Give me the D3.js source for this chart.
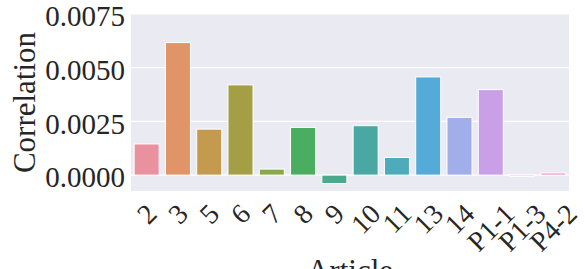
<!DOCTYPE html>
<html>
<head>
<meta charset="utf-8">
<script src="https://cdn.jsdelivr.net/npm/d3@7"></script>
<style>
  body { margin: 0; background: #fff; }
  text { font-family: "Liberation Serif", "Times New Roman", serif; fill: #262626; }
</style>
</head>
<body>
<script>
// Data
var articles = ["2", "3", "5", "6", "7", "8", "9", "10", "11", "13", "14", "P1-1", "P1-3", "P4-2"];
var correlation = [0.00145, 0.00617, 0.00214, 0.0042, 0.00028, 0.00222, -0.00039, 0.0023, 0.00082, 0.00457, 0.00269, 0.00398, -0.00006, 0.0001];
var barColors = ["#e9919f", "#e29469", "#c39a4e", "#a49f44", "#8aa84a", "#4aae60", "#4aaa8c", "#4aa8a3", "#4eabbb", "#54abd7", "#a2aeea", "#c9a0e8", "#e68fe3", "#ef8fc6"];
var yTicks = [0, 0.0025, 0.005, 0.0075];

var W = 585, H = 269;
var margin = { top: 14, right: 16, bottom: 78, left: 131 };
var width = W - margin.left - margin.right;
var height = H - margin.top - margin.bottom;

var svg = d3.select("body").append("svg")
  .attr("width", W)
  .attr("height", H);

var g = svg.append("g")
  .attr("transform", "translate(" + margin.left + "," + margin.top + ")");

var x = d3.scaleBand()
  .domain(articles)
  .range([0, width])
  .paddingInner(0.2)
  .paddingOuter(0.1);

var y = d3.scaleLinear()
  .domain([-0.00074, 0.0075])
  .range([height, 0]);

// background
g.append("rect")
  .attr("width", width)
  .attr("height", height)
  .attr("fill", "#eaeaf2");

// horizontal grid
g.selectAll(".grid")
  .data(yTicks)
  .enter().append("line")
  .attr("class", "grid")
  .attr("x1", 0)
  .attr("x2", width)
  .attr("y1", function(d) { return y(d); })
  .attr("y2", function(d) { return y(d); })
  .attr("stroke", "#fff")
  .attr("stroke-width", 1.2);

// bars
var data = articles.map(function(a, i) { return { article: a, value: correlation[i], color: barColors[i] }; });

g.selectAll(".bar")
  .data(data)
  .enter().append("rect")
  .attr("class", "bar")
  .attr("x", function(d) { return x(d.article); })
  .attr("width", x.bandwidth())
  .attr("y", function(d) { return y(Math.max(0, d.value)); })
  .attr("height", function(d) { return Math.abs(y(d.value) - y(0)); })
  .attr("fill", function(d) { return d.color; })
  .attr("stroke", "#fff")
  .attr("stroke-width", 1);

// y axis
var yAxis = d3.axisLeft(y)
  .tickValues(yTicks)
  .tickFormat(d3.format(".4f"))
  .tickSize(0)
  .tickPadding(6);

var ya = g.append("g").call(yAxis);
ya.select(".domain").remove();
ya.selectAll("text")
  .attr("font-size", 29)
  .attr("dy", "0.4em")
  .attr("fill", "#262626");

// x tick labels, rotated 45 deg, centered under bar with bbox top below axis
var fs = 28;
var xl = g.append("g").attr("class", "xlabels");
xl.selectAll("text")
  .data(articles)
  .enter().append("text")
  .attr("font-size", fs)
  .attr("text-anchor", "middle")
  .attr("dominant-baseline", "central")
  .text(function(d) { return d; })
  .attr("transform", function(d) {
    var w = this.getComputedTextLength();
    var h = fs * 1.0;
    var half = (w + h) / (2 * Math.SQRT2);
    var cx = x(d) + x.bandwidth() / 2;
    var cy = height + 8 + half;
    return "translate(" + cx + "," + cy + ") rotate(-45)";
  });

// axis titles
svg.append("text")
  .attr("transform", "translate(35," + (margin.top + height / 2) + ") rotate(-90)")
  .attr("text-anchor", "middle")
  .attr("font-size", 31)
  .text("Correlation");

svg.append("text")
  .attr("x", margin.left + width / 2)
  .attr("y", 281)
  .attr("text-anchor", "middle")
  .attr("font-size", 31)
  .text("Article");
</script>
</body>
</html>
